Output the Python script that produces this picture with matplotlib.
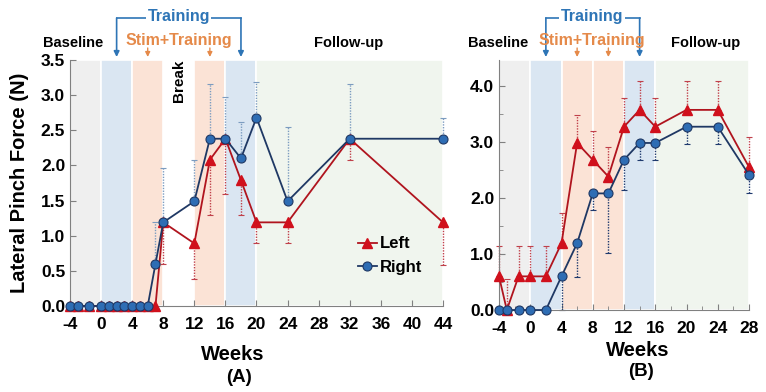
import numpy as np
import matplotlib
matplotlib.use("Agg")
import matplotlib.pyplot as plt
import matplotlib.transforms as mtransforms
from matplotlib.ticker import MultipleLocator, FormatStrFormatter

plt.rcParams['font.family'] = ['Liberation Sans', 'DejaVu Sans']
plt.rcParams['font.weight'] = 'bold'
plt.rcParams['axes.unicode_minus'] = False

# ---- panel A data ----
weeks_a = [-4, -3, -1.5, 0, 1, 2, 3, 4, 5, 6, 7, 8, 12, 14, 16, 18, 20, 24, 32, 44]
left_a = [0, 0, 0, 0, 0, 0, 0, 0, 0, 0, 0, 1.19, 0.89, 2.08, 2.38, 1.79, 1.19, 1.19, 2.38, 1.19]
right_a = [0, 0, 0, 0, 0, 0, 0, 0, 0, 0, 0.6, 1.19, 1.49, 2.38, 2.38, 2.1, 2.68, 1.49, 2.38, 2.38]
left_a_err = [0, 0, 0, 0, 0, 0, 0, 0, 0, 0, 0, 0.59, 0.51, 0.78, 0.78, 0.49, 0.3, 0.3, 0.3, 0.61]   # downward
right_a_err = [0, 0, 0, 0, 0, 0, 0, 0, 0, 0, 0.6, 0.78, 0.59, 0.78, 0.59, 0.52, 0.5, 1.06, 0.78, 0.3]  # upward

# ---- panel B data ----
weeks_b = [-4, -3, -1.5, 0, 2, 4, 6, 8, 10, 12, 14, 16, 20, 24, 28]
left_b = [0.6, 0, 0.6, 0.6, 0.6, 1.19, 2.98, 2.68, 2.38, 3.27, 3.57, 3.27, 3.57, 3.57, 2.55]
right_b = [0, 0, 0, 0, 0, 0.6, 1.19, 2.08, 2.08, 2.68, 2.98, 2.98, 3.27, 3.27, 2.41]
left_b_err = [0.54, 0.55, 0.54, 0.54, 0.54, 0.54, 0.5, 0.51, 0.53, 0.52, 0.52, 0.52, 0.52, 0.52, 0.54]  # upward
right_b_err = [0, 0, 0, 0, 0, 0.6, 0.6, 0.3, 1.07, 0.54, 0.3, 0.3, 0.3, 0.3, 0.33]  # downward

# shaded phases (start, end, colour)
grey, blue, peach, green = '#EFEFEF', '#DAE6F2', '#FBE3D6', '#F0F5EE'
phases_a = [(-4, 0, grey), (0, 4, blue), (4, 8, peach), (12, 16, peach), (16, 20, blue), (20, 44, green)]
phases_b = [(-4, 0, grey), (0, 4, blue), (4, 8, peach), (8, 12, peach), (12, 16, blue), (16, 28, green)]

red_line, red_mk = '#B0141E', '#D0101C'
blue_line, blue_mk = '#1F3864', '#2E6DB4'
c_train, c_stim = '#2E75B6', '#E58A4A'

fig = plt.figure(figsize=(7.66, 3.92), dpi=100)
ax_a = fig.add_axes([70/766, 1-306/392, 373/766, 246/392])
ax_b = fig.add_axes([499/766, 1-310/392, 250/766, 250/392])


def fy(p):
    return 1 - p/392


def draw_panel(ax, weeks, left, right, lerr, rerr, phases, lerr_up, rerr_col):
    n = len(weeks)
    for s, e, c in phases:
        ax.axvspan(s, e, color=c, ec='white', lw=1.2, zorder=0)
    z = [0]*n
    if lerr_up:
        le, re = [z, lerr], [rerr, z]
    else:
        le, re = [lerr, z], [z, rerr]
    for y, err, col in [(left, le, '#C0404A'), (right, re, rerr_col)]:
        eb = ax.errorbar(weeks, y, yerr=err, fmt='none', ecolor=col, elinewidth=1,
                         capsize=2, capthick=0.8, zorder=2)
        for lc in eb[2]:
            lc.set_linestyle((0, (1, 1)))
            lc.set_clip_on(False)
        for cl in eb[1]:
            cl.set_clip_on(False)
    ax.plot(weeks, left, color=red_line, lw=1.3, marker='^', ms=6.5, mfc=red_mk, mec=red_mk,
            label='Left', zorder=3, clip_on=False)
    ax.plot(weeks, right, color=blue_line, lw=1.3, marker='o', ms=6.5, mfc=blue_mk, mec=blue_line,
            mew=0.8, label='Right', zorder=4, clip_on=False)
    for s in ['top', 'right']:
        ax.spines[s].set_visible(False)
    for s in ['left', 'bottom']:
        ax.spines[s].set_color('#808080')
    ax.tick_params(which='both', direction='in', colors='#808080', labelcolor='black',
                   labelsize=12.5)
    ax.tick_params(which='major', length=4)
    ax.tick_params(which='minor', length=3)
    ax.tick_params(axis='x', pad=8)
    ax.yaxis.set_major_formatter(FormatStrFormatter('%.1f'))
    for t in ax.get_xticklabels() + ax.get_yticklabels():
        t.set_fontweight('bold')


def annotate_phases(ax, x_lo, x_hi, x_txt, stim_xs, base_x, fol_x, y_top):
    tr = mtransforms.blended_transform_factory(ax.transData, fig.transFigure)
    ax.plot([x_lo, x_hi], [fy(18), fy(18)], color=c_train, lw=1.2, transform=tr, clip_on=False)
    for x in (x_lo, x_hi):
        ax.annotate('', xy=(x, fy(y_top)), xytext=(x, fy(18)), xycoords=tr, textcoords=tr,
                    arrowprops=dict(arrowstyle='-|>', color=c_train, lw=1.2, mutation_scale=8,
                                    shrinkA=0, shrinkB=0), annotation_clip=False)
    ax.text(x_txt, fy(16), 'Training', transform=tr, ha='center', va='center', color=c_train,
            fontsize=11.5, fontweight='bold',
            bbox=dict(fc='white', ec='none', pad=1))
    ax.text(x_txt, fy(41), 'Stim+Training', transform=tr, ha='center', va='center', color=c_stim,
            fontsize=11.5, fontweight='bold')
    for x in stim_xs:
        ax.annotate('', xy=(x, fy(y_top)), xytext=(x, fy(48)), xycoords=tr, textcoords=tr,
                    arrowprops=dict(arrowstyle='-|>', color=c_stim, lw=1.0, mutation_scale=7,
                                    shrinkA=0, shrinkB=0), annotation_clip=False)
    ax.text(base_x, fy(43), 'Baseline', transform=tr, ha='center', va='center', fontsize=10.5,
            fontweight='bold')
    ax.text(fol_x, fy(43), 'Follow-up', transform=tr, ha='center', va='center', fontsize=10.5,
            fontweight='bold')


# ---- panel A ----
draw_panel(ax_a, weeks_a, left_a, right_a, left_a_err, right_a_err, phases_a, False, '#7C9CC0')
ax_a.set_xlim(-4, 44)
ax_a.set_ylim(0, 3.5)
ax_a.xaxis.set_major_locator(MultipleLocator(4))
ax_a.yaxis.set_major_locator(MultipleLocator(0.5))
annotate_phases(ax_a, 2, 18, 10, [6, 14], -3.6, 31.8, 57)
ax_a.text(10, 3.2, 'Break', rotation=90, ha='center', va='center', fontsize=11, fontweight='bold')
ax_a.legend(loc='upper left', bbox_to_anchor=(0.755, 0.31), frameon=False, handlelength=1.1,
            handletextpad=0.2, labelspacing=0.5, borderaxespad=0,
            prop=dict(size=12, weight='bold'))

# ---- panel B ----
draw_panel(ax_b, weeks_b, left_b, right_b, left_b_err, right_b_err, phases_b, True, '#1F3A6E')
ax_b.set_xlim(-4, 28)
ax_b.set_ylim(0, 4.46)
ax_b.xaxis.set_major_locator(MultipleLocator(4))
ax_b.xaxis.set_minor_locator(MultipleLocator(2))
ax_b.yaxis.set_major_locator(MultipleLocator(1))
ax_b.yaxis.set_minor_locator(MultipleLocator(0.5))
annotate_phases(ax_b, 2, 14, 7.9, [6, 10], -4.1, 22.4, 57)

fig.text(20/766, fy(183), 'Lateral Pinch Force (N)', rotation=90, ha='center', va='center',
         fontsize=14.5, fontweight='bold')
fig.text(233/766, fy(354), 'Weeks', ha='center', va='center', fontsize=14.5, fontweight='bold')
fig.text(239/766, fy(377), '(A)', ha='center', va='center', fontsize=13.5, fontweight='bold')
fig.text(638/766, fy(350), 'Weeks', ha='center', va='center', fontsize=14.5, fontweight='bold')
fig.text(641/766, fy(372), '(B)', ha='center', va='center', fontsize=13.5, fontweight='bold')

fig.savefig('out.png', dpi=100)
